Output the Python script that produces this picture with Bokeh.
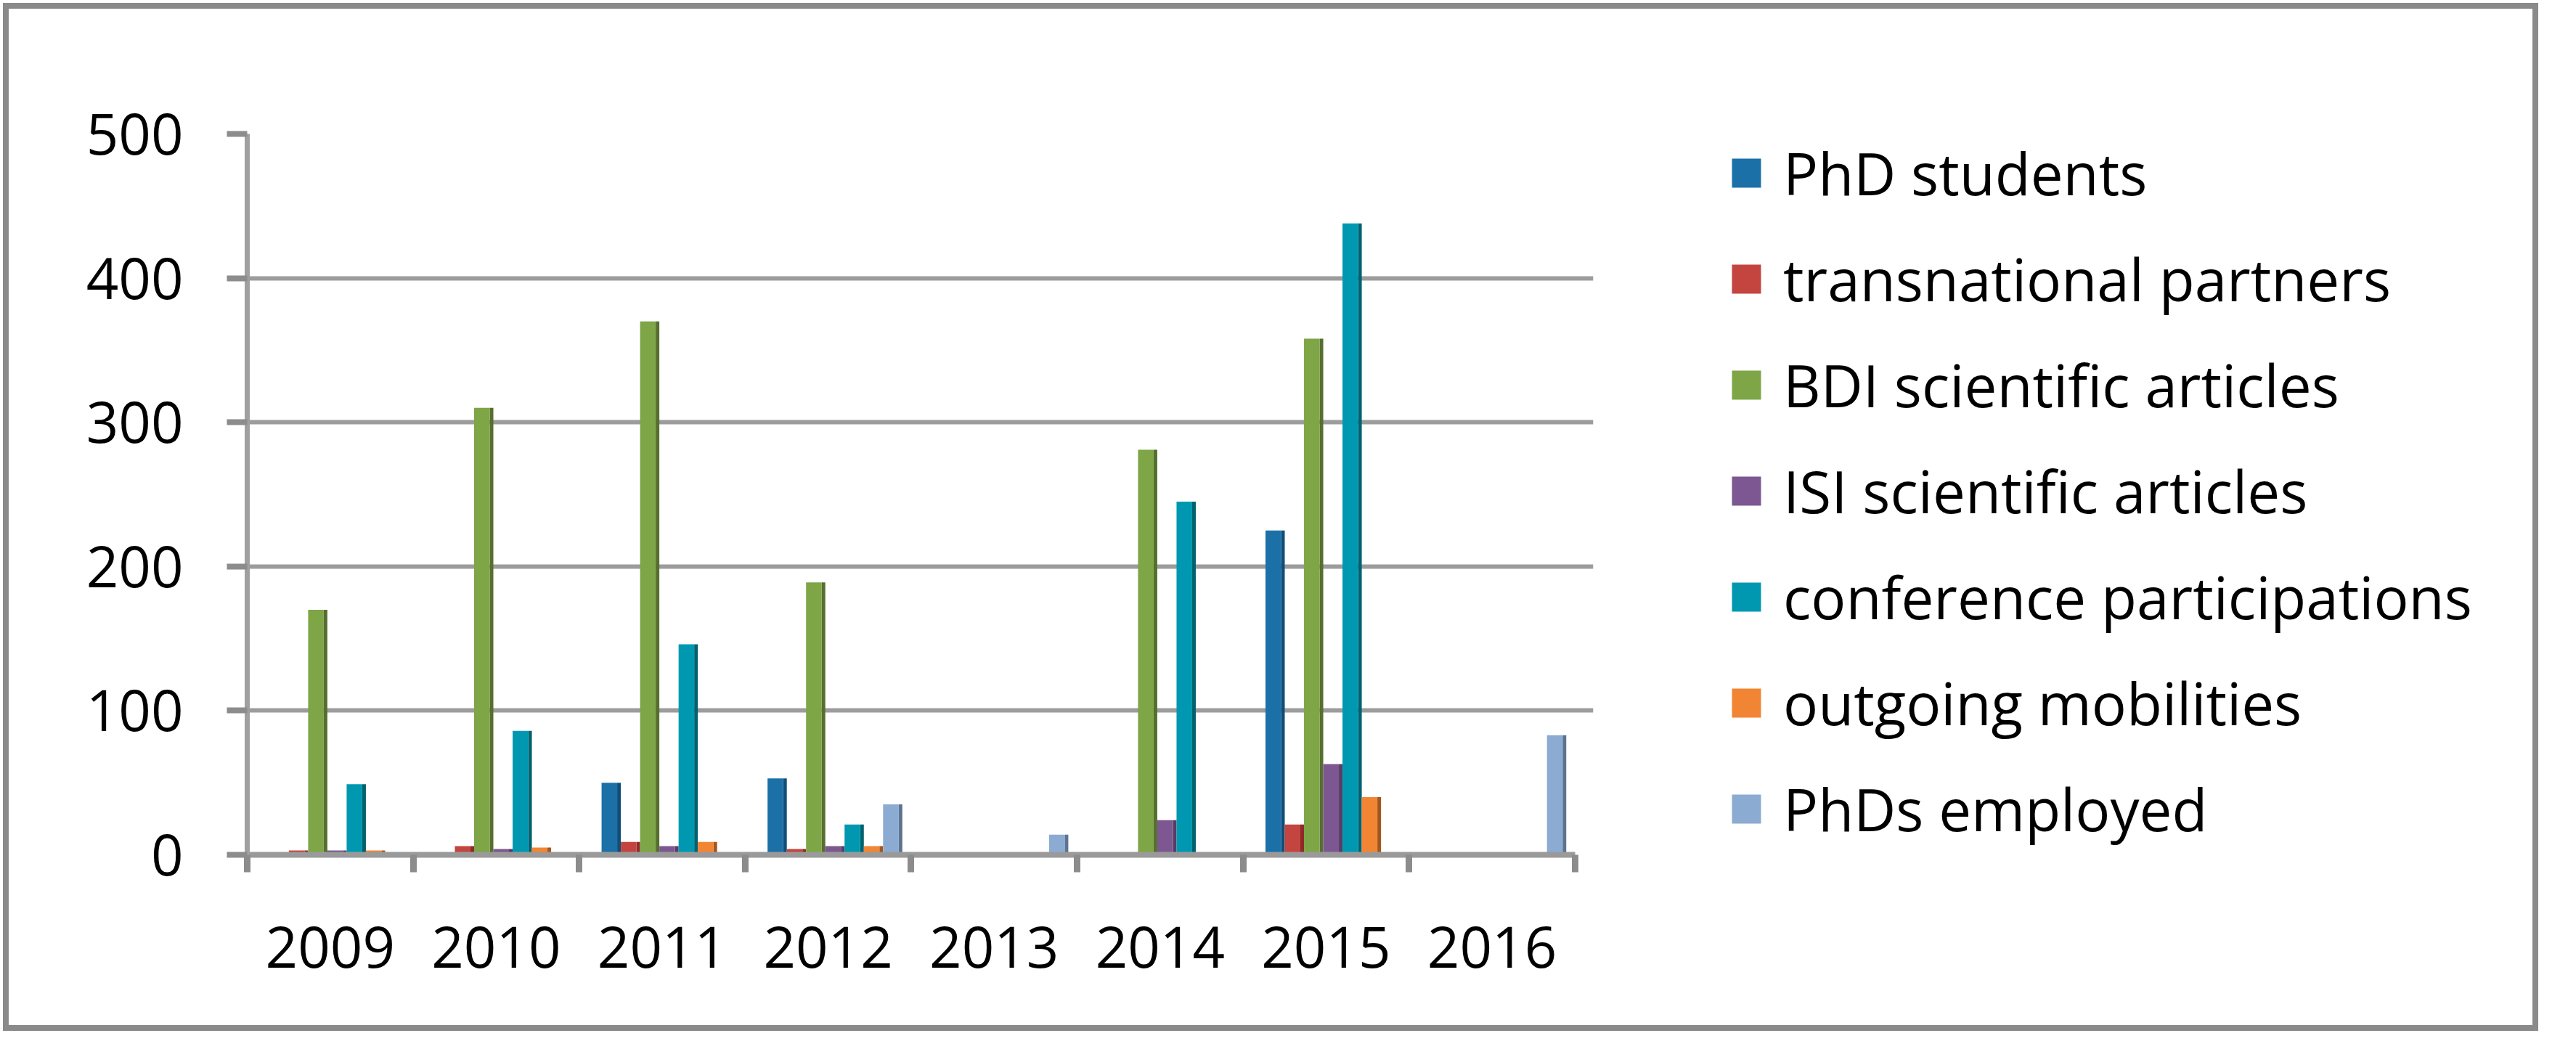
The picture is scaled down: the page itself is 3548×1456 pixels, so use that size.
import numpy as np
from bokeh.plotting import figure
from bokeh.layouts import row
from bokeh.models import ColumnDataSource, FixedTicker, Legend, LegendItem, Range1d
from bokeh.transform import dodge
from bokeh.embed import file_html
from bokeh.resources import INLINE

# ---- data ----
years = ["2009", "2010", "2011", "2012", "2013", "2014", "2015", "2016"]
series_names = ["PhD students", "transnational partners", "BDI scientific articles",
                "ISI scientific articles", "conference participations",
                "outgoing mobilities", "PhDs employed"]
phd_students = [0, 0, 50, 53, 0, 0, 225, 0]
transnational_partners = [3, 6, 9, 4, 0, 0, 21, 0]
bdi_articles = [170, 310, 370, 189, 0, 281, 358, 0]
isi_articles = [3, 4, 6, 6, 0, 24, 63, 0]
conference_participations = [49, 86, 146, 21, 0, 245, 438, 0]
outgoing_mobilities = [3, 5, 9, 6, 0, 0, 40, 0]
phds_employed = [0, 0, 0, 35, 14, 0, 0, 83]
y_ticks = [0, 100, 200, 300, 400, 500]

series_values = [phd_students, transnational_partners, bdi_articles, isi_articles,
                 conference_participations, outgoing_mobilities, phds_employed]
front_colors = ["#1B70A8", "#C4443F", "#7EA546", "#7D5791", "#0098B0", "#F28534", "#8BABD3"]
side_colors = ["#0F4E78", "#8E2B28", "#566F2E", "#573D66", "#006270", "#A3561D", "#5C7391"]

FONT = "Open Sans"
GRAY = "#8c8c8c"
BORDER = "8px solid #8a8a8a"

# layout (pixels)
H = 1416
W_CHART = 2228
W_LEGEND = 1264
CAT_W = 1829          # pixel width of the 8 categories
GRID_EXT = 0.11       # gridlines run a little past the last category
n = len(years)
frame_w = CAT_W * (n + GRID_EXT) / n

pos = np.arange(n) + 0.5
data = {"x": pos}
keys = []
for i, vals in enumerate(series_values):
    k = f"s{i}"
    keys.append(k)
    data[k] = vals
source = ColumnDataSource(data)

p = figure(width=W_CHART, height=H,
           x_range=Range1d(0, n + GRID_EXT), y_range=Range1d(0, 500),
           output_backend="svg", toolbar_location=None,
           min_border_left=328, min_border_right=int(round(W_CHART - 328 - frame_w)),
           min_border_top=172, min_border_bottom=251)
p.styles = {"border-top": BORDER, "border-bottom": BORDER, "border-left": BORDER}
p.outline_line_color = None
p.background_fill_color = "white"
p.border_fill_color = "white"

p.ygrid.ticker = FixedTicker(ticks=y_ticks)
p.ygrid.grid_line_color = "#9c9c9c"
p.ygrid.grid_line_width = 6
p.xgrid.grid_line_color = None

step = 0.116
front_w = 0.094
side_w = 0.022
for i, k in enumerate(keys):
    off = (i - 3) * step + 0.03
    p.vbar(x=dodge("x", off + front_w / 2 + side_w / 2, range=p.x_range), top=k,
           width=side_w, bottom=0, source=source,
           fill_color=side_colors[i], line_color=None)
    p.vbar(x=dodge("x", off, range=p.x_range), top=k, width=front_w, bottom=0,
           source=source, fill_color=front_colors[i], line_color=None)

# x axis: labels at category centres, ticks at category boundaries
xa = p.xaxis[0]
xa.bounds = (0, n)
xa.ticker = FixedTicker(ticks=list(pos), minor_ticks=list(range(n + 1)))
xa.major_label_overrides = {float(v): y for v, y in zip(pos, years)}
xa.major_tick_out = 0
xa.major_tick_in = 0
xa.minor_tick_out = 24
xa.minor_tick_in = 0
xa.minor_tick_line_width = 9
xa.minor_tick_line_color = GRAY
xa.axis_line_color = "#9a9a9a"
xa.axis_line_width = 8
xa.major_label_text_font = FONT
xa.major_label_text_font_size = "78px"
xa.major_label_text_color = "black"
xa.major_label_standoff = 74

ya = p.yaxis[0]
ya.ticker = FixedTicker(ticks=y_ticks, minor_ticks=[])
ya.major_tick_out = 28
ya.major_tick_in = 0
ya.major_tick_line_width = 8
ya.major_tick_line_color = GRAY
ya.axis_line_color = "#a0a0a0"
ya.axis_line_width = 7
ya.major_label_text_font = FONT
ya.major_label_text_font_size = "78px"
ya.major_label_text_color = "black"
ya.major_label_standoff = 60

# legend panel (separate figure so the legend is not clipped)
p2 = figure(width=W_LEGEND, height=H, output_backend="svg", toolbar_location=None,
            x_axis_location=None, y_axis_location=None,
            x_range=Range1d(0, 1), y_range=Range1d(0, 1),
            min_border_left=0, min_border_right=0, min_border_top=0, min_border_bottom=0)
p2.styles = {"border-top": BORDER, "border-bottom": BORDER, "border-right": BORDER}
p2.outline_line_color = None
p2.background_fill_color = "white"
p2.border_fill_color = "white"
p2.grid.visible = False

# legend proxies: one zero-size bar each, only used for the legend swatches
items = []
for i, name in enumerate(series_names):
    proxy = p2.vbar(x=[-10], top=[0], bottom=[0], width=0,
                    fill_color=front_colors[i], line_color=None)
    items.append(LegendItem(label=name, renderers=[proxy]))

legend = Legend(items=items, location=(148, 9),
                glyph_width=50, glyph_height=50, label_height=50,
                label_standoff=26, spacing=37, padding=0, margin=0,
                border_line_color=None, background_fill_alpha=0,
                label_text_font=FONT, label_text_font_size="80px",
                label_text_baseline="alphabetic",
                label_text_color="black")
p2.add_layout(legend)

layout = row(p, p2, spacing=0)
layout.margin = (4, 0, 0, 4)

open("out.html", "w").write(file_html(layout, INLINE))
